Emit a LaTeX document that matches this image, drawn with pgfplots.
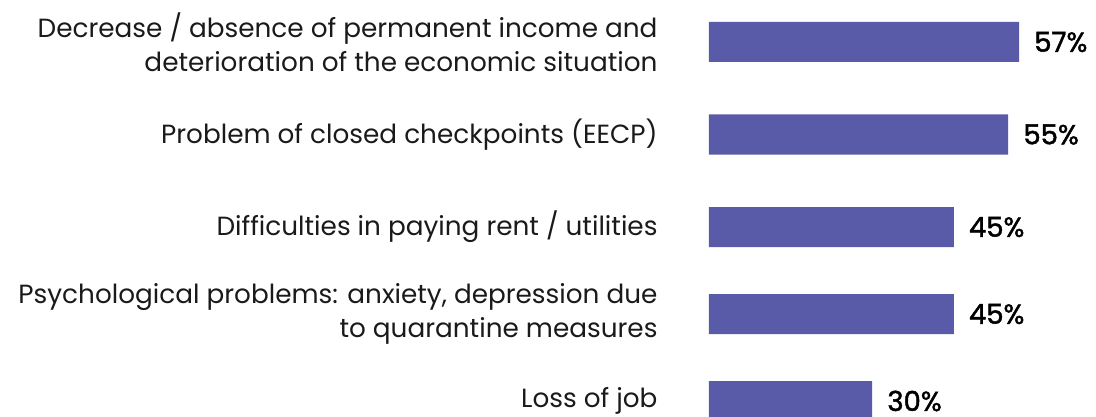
\documentclass[border=0pt]{standalone}
\usepackage{fontspec}
\setmainfont{Poppins}
\newfontfamily\medfont[FakeBold=1.6]{Poppins}
\usepackage{pgfplots}
\pgfplotsset{compat=1.18}
\definecolor{barc}{RGB}{90,91,168}
\definecolor{txt}{RGB}{26,26,26}
\begin{document}
\begin{tikzpicture}[x=1pt,y=1pt]
\useasboundingbox (0,0) rectangle (1096,416);
\begin{axis}[
  at={(709pt,416pt)}, anchor=origin,
  x=5.44pt, y=1pt,
  xmin=0, xmax=70, ymin=-416, ymax=0,
  scale only axis,
  axis line style={draw=none},
  tick style={draw=none},
  xtick=\empty,
  /pgf/number format/assume math mode=true,
  ytick={-42,-134.5,-227,-314,-401},
  yticklabels={{Decrease / absence of permanent income and\\deterioration of the economic situation},
               {Problem of closed checkpoints (EECP)},
               {Difficulties in paying rent / utilities},
               {Psychological problems: anxiety, depression due\\to quarantine measures},
               {Loss of job}},
  yticklabel style={align=right, anchor=east, inner sep=0pt, xshift=-47pt,
     font=\fontsize{26.3}{33.5}\selectfont, text=txt},
  clip=false,
  xbar, bar width=40pt, bar shift=0pt,
  nodes near coords={\pgfmathprintnumber{\pgfplotspointmeta}\%},
  every node near coord/.append style={anchor=west, inner sep=0pt, xshift=15pt,
     font=\medfont\fontsize{27.5}{30}\selectfont, text=black},
  point meta=x,
]
\addplot[fill=barc, draw=none] coordinates {(57,-42) (55,-134.5) (45,-227) (45,-314) (30,-401)};
\end{axis}
\end{tikzpicture}
\end{document}
